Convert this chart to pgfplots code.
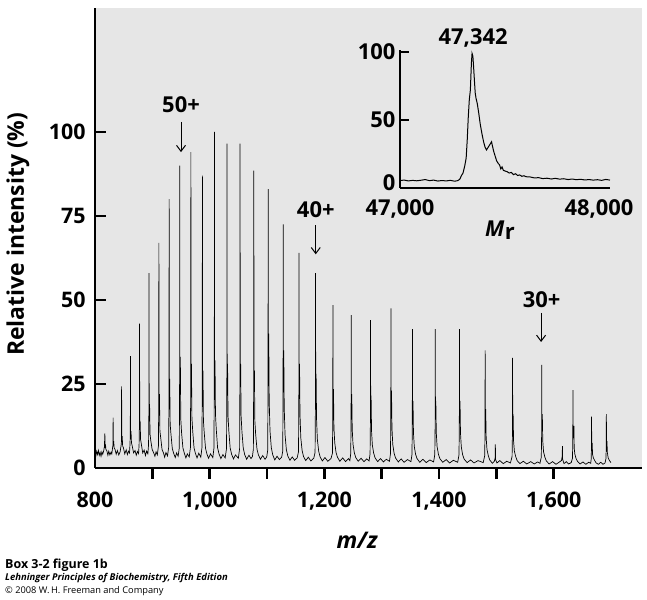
\documentclass[border=0pt]{standalone}
\usepackage{fontspec}
\setmainfont{Open Sans}
\usepackage{pgfplots}
\pgfplotsset{compat=1.18}
\usetikzlibrary{arrows.meta}
\definecolor{bg}{RGB}{230,230,230}
\newcommand{\tl}{\fontsize{21.5}{24}\selectfont\bfseries}
\begin{document}
\begin{tikzpicture}[x=1bp,y=1bp]
\path[use as bounding box] (0,0) rectangle (647,600);
\begin{axis}[
  at={(95bp,132bp)}, anchor=south west,
  scale only axis, width=547bp, height=460bp,
  xmin=800, xmax=1754, ymin=0, ymax=136.9,
  axis x line*=bottom, axis y line*=left,
  axis line style={line width=2.5bp, black},
  axis background/.style={fill=bg},
  xtick={900,1000,...,1600},
  xticklabels={,{1,000},,{1,200},,{1,400},,{1,600}},
  extra x ticks={800}, extra x tick labels={800},
  extra x tick style={tick style={draw=none}},
  xtick align=outside, ytick align=inside,
  ytick={0,25,50,75,100}, yticklabels={0,25,50,75,100},
  major tick length=11bp,
  tick style={line width=2.5bp, black},
  tick label style={font=\tl},
  xticklabel style={yshift=-9bp},
  yticklabel style={xshift=-6bp},
  /pgf/number format/assume math mode=true,
  xlabel={\itshape m/z}, ylabel={Relative intensity (\%)},
  xlabel style={font=\fontsize{23}{26}\selectfont\bfseries, at={(axis description cs:0.479,-0.157)}, anchor=center},
  ylabel style={font=\fontsize{23}{26}\selectfont\bfseries, at={(axis description cs:-0.141,0.508)}, anchor=center, rotate=0},
  clip=false,
]
\addplot[line width=0.7bp, black] coordinates {
(800,4.5)(801.5,3.6)(803,5)(804.5,4)(806,5.2)(807.5,3.8)(809,4.6)(810.5,3.5)(812,4.8)(813.5,4.1)
(815,5)(816.4,6.3)(817.2,10.3)(817.6,6)(818.3,7)(819,5.5)(820.5,5.2)(822.5,3.8)(824,5)(826,3.9)(828,4.7)
(829.3,4.2)(831,6.5)(831.4,6.8)(831.6,15)(831.9,7)(832.6,8)(833.4,6)(835,5.5)(837,4.1)(839,5.2)(841.5,3.9)(843.8,4.8)
(845.6,6.8)(846.2,8)(846.4,24.3)(846.7,8)(847.4,9.5)(848.2,6.6)(849.6,6)(851.9,4.2)(854.4,5.4)(856.5,4)(858.5,5)(860.2,4.5)
(861,7)(861.6,10)(861.8,33.3)(862.1,9.5)(862.8,11)(863.6,7.5)(865,6.5)(867.3,4.5)(869.8,5.2)(872,3.8)(874,4.9)(876,4.3)
(876.9,7)(877.5,13)(877.7,43)(878,12)(878.7,14)(879.5,8.5)(880.9,7)(883.2,4.5)(885.7,5.3)(888,3.7)(890,5)(892.2,4.2)
(893.4,7)(894,17)(894.2,58)(894.5,16)(895.2,19)(896,10)(897.4,8)(899.7,5.5)(902.2,4.6)(904.5,3.5)(906.5,4.8)(908.7,3.9)
(910.6,6.5)(911.2,20)(911.4,67)(911.7,18.5)(912.4,22)(913.2,11)(914.6,9)(916.9,5.5)(919.4,4.5)(921.5,3.2)(923.7,4.6)(926.5,3.6)
(928.5,6.2)(929.1,24)(929.3,80)(929.6,22)(930.3,26.5)(931.1,13)(932.5,10)(934.8,5.8)(937.3,4.3)(940,3.1)(942.3,4.5)(945,3.5)
(947,6)(947.6,27)(947.8,90)(948.1,25)(948.8,33)(949.6,14.5)(951,10.5)(953.3,6)(955.8,4.4)(958.5,3)(961,4.2)(964.3,3.3)
(966.4,6)(967,28)(967.2,94)(967.5,26)(968.2,31)(969,15)(970.4,11)(972.7,6)(975.2,4.3)(978,3)(981,4.4)(984.5,3.2)
(986.5,6)(987.1,26)(987.3,87)(987.6,24)(988.3,29)(989.1,14)(990.5,10.5)(992.8,5.8)(995.3,4.1)(998,2.9)(1001.5,4.2)(1005.5,3.1)
(1007.5,6)(1008.1,30)(1008.3,100)(1008.6,27)(1009.3,32)(1010.1,16)(1011.5,11.5)(1013.8,6)(1016.3,4.2)(1019.5,2.8)(1023,4)(1027,3)
(1029.4,5.8)(1030,29)(1030.2,96.5)(1030.5,26)(1031.2,31)(1032,15.5)(1033.4,11)(1035.7,6)(1038.2,4.1)(1041.5,2.7)(1045,3.9)(1050,2.9)
(1052.2,5.8)(1052.8,29)(1053,96.5)(1053.3,26)(1054,31)(1054.8,15.5)(1056.2,11)(1058.5,6)(1061,4)(1064.5,2.6)(1068.5,3.8)(1072,2.8)(1074.5,3.4)
(1076.2,5.6)(1076.8,27)(1077,88.5)(1077.3,24)(1078,29)(1078.8,14)(1080.2,10)(1082.5,5.6)(1085,3.9)(1088.5,2.6)(1092.5,3.7)(1096.5,2.6)(1099.5,3.3)
(1101.2,5.3)(1101.8,25)(1102,83)(1102.3,35)(1103,40)(1103.8,20)(1105.2,11)(1107.5,6)(1110,3.9)(1113.5,2.4)(1117.5,3.5)(1121.5,2.5)(1125.5,3.2)
(1127.4,5)(1128,22)(1128.2,72.5)(1128.5,30)(1129.2,35)(1130,18)(1131.4,10)(1133.7,5.5)(1136.2,3.6)(1140,2.3)(1144,3.3)(1148,2.3)(1152.5,3)
(1154.9,4.8)(1155.5,19.5)(1155.7,64)(1156,27)(1156.7,31)(1157.5,16)(1158.9,9)(1161.2,5.2)(1163.7,3.4)(1167.5,2.2)(1172,3.2)(1176.5,2.1)(1181.5,2.9)
(1183.8,4.6)(1184.4,18)(1184.6,58)(1184.9,24.5)(1185.6,28)(1186.4,14.5)(1187.8,8.5)(1190.1,5)(1192.6,3.3)(1196.5,2.1)(1201,3.1)(1206,2)(1211.5,2.8)
(1214.1,4.4)(1214.7,15)(1214.9,48.5)(1215.2,20.5)(1215.9,23.5)(1216.7,12)(1218.1,7.5)(1220.4,4.6)(1222.9,3.2)(1227,2)(1232,3)(1237,1.9)(1242,2.8)(1244.5,2.2)
(1246,4.3)(1246.6,14)(1246.8,45.5)(1247.1,19)(1247.8,22)(1248.6,11.5)(1250,7)(1252.3,4.5)(1254.8,3.1)(1259,2)(1264,2.9)(1269,1.9)(1274,2.7)(1278,2.1)
(1279.7,4.2)(1280.3,13.5)(1280.5,44)(1280.8,18.5)(1281.5,21.5)(1282.3,11)(1283.7,6.8)(1286,4.4)(1288.5,3)(1293,1.9)(1298,2.8)(1303,1.8)(1308,2.6)(1313.5,2)
(1315.3,4.2)(1315.9,14.5)(1316.1,47.5)(1316.4,20)(1317.1,23)(1317.9,12)(1319.3,7)(1321.6,4.4)(1324.1,3)(1329,1.8)(1334,2.7)(1339,1.7)(1345,2.5)(1351,1.9)
(1352.8,4)(1353.4,12.5)(1353.6,41.3)(1353.9,17.5)(1354.6,20)(1355.4,10.5)(1356.8,6.4)(1359.1,4.1)(1361.6,2.8)(1366.5,1.7)(1372,2.6)(1377.5,1.6)(1384,2.4)(1390.5,1.8)
(1392.6,4)(1393.2,12.5)(1393.4,41.3)(1393.7,17.5)(1394.4,20)(1395.2,10.5)(1396.6,6.4)(1398.9,4.1)(1401.4,2.8)(1406.5,1.7)(1412.5,2.5)(1418.5,1.5)(1425,2.3)(1432.5,1.7)
(1434.8,3.9)(1435.4,12.5)(1435.6,41.3)(1435.9,17.5)(1436.6,20)(1437.4,10.5)(1438.8,6.3)(1441.1,4)(1443.6,2.7)(1449,1.6)(1455,2.4)(1461,1.5)(1468,2.2)(1477,1.6)
(1479.6,3.6)(1480.2,10.5)(1480.4,35)(1480.7,15)(1481.4,17.5)(1482.2,9)(1483.6,5.5)(1485.9,3.7)(1488.4,2.4)(1493,1.4)(1496.5,2)(1497.8,3)(1498.2,7)(1498.6,2.5)(1501,1.5)(1506,2.2)(1512,1.3)(1518,2)(1524.5,1.5)
(1527.4,3.4)(1528,10)(1528.2,32.8)(1528.5,14)(1529.2,16)(1530,8)(1531.4,5)(1533.7,3.4)(1536.2,2.2)(1541,1.3)(1547,2)(1553,1.2)(1560,1.9)(1566,1.2)(1572,1.8)(1576,1.4)
(1578.3,3.2)(1578.9,9.5)(1579.1,30.7)(1579.4,13)(1580.1,16)(1580.9,8)(1582.3,4.8)(1584.6,3.2)(1587.1,2.1)(1592,1.2)(1598,1.9)(1604,1.1)(1610,1.8)(1613.5,2.2)(1614.8,3.5)(1615.2,6.5)(1615.6,2.5)(1618,1.3)(1622,1.9)(1626,1.2)(1630.5,1.6)
(1632.7,2.9)(1633.3,8)(1633.5,23.2)(1633.8,10)(1634.5,9)(1635.3,12.5)(1635.7,6)(1636.8,4.2)(1639,2.8)(1641.5,2)(1646,1.2)(1651,1.8)(1656,1.1)(1661,1.7)(1664.5,1.4)
(1665.3,2.6)(1665.8,5.5)(1666,15.3)(1666.3,6.5)(1667,7.5)(1667.8,4)(1669.2,3)(1671.5,2.2)(1674,1.5)(1678,1.1)(1682,1.7)(1686,1.1)(1689.5,1.5)
(1691,2.7)(1691.6,5.7)(1691.8,16)(1692.1,7)(1692.8,8)(1693.6,4.5)(1695,3)(1697.3,2.2)(1699.8,1.6)
};
\node[font=\fontsize{22}{24}\selectfont\bfseries] at (axis cs:950,108) {50+};
\draw[line width=1bp, -{Straight Barb[length=6bp,width=9bp]}] (axis cs:950,103) -- (axis cs:950,94);
\node[font=\fontsize{22}{24}\selectfont\bfseries] at (axis cs:1185,76.8) {40+};
\draw[line width=1bp, -{Straight Barb[length=6bp,width=9bp]}] (axis cs:1185,72.3) -- (axis cs:1185,63.6);
\node[font=\fontsize{22}{24}\selectfont\bfseries] at (axis cs:1579,50) {30+};
\draw[line width=1bp, -{Straight Barb[length=6bp,width=9bp]}] (axis cs:1578,46.2) -- (axis cs:1578,37.5);
\end{axis}
\begin{axis}[
  at={(400bp,412bp)}, anchor=south west,
  scale only axis, width=210bp, height=138bp,
  xmin=47000, xmax=48000, ymin=0, ymax=101.5,
  scaled x ticks=false, scaled y ticks=false,
  axis x line*=bottom, axis y line*=left,
  axis line style={line width=2.5bp, black},
  xtick={47000,48000}, xticklabels={{47,000},{\hspace*{-22bp}48,000}},
  xtick style={draw=none},
  ytick={50,100}, yticklabels={50,100},
  extra y ticks={4}, extra y tick labels={0},
  extra y tick style={tick style={draw=none}},
  ytick align=inside, major tick length=9bp,
  ytick style={line width=2.5bp, black},
  tick label style={font=\fontsize{22}{24}\selectfont\bfseries},
  xticklabel style={yshift=-8bp},
  yticklabel style={xshift=-1bp},
  /pgf/number format/assume math mode=true,
  xlabel={\bfseries\itshape M\kern0.5bp\raisebox{-0.3ex}{\upshape r}},
  xlabel style={font=\fontsize{22}{24}\selectfont, at={(axis description cs:0.476,-0.305)}, anchor=center},
  clip=false,
]
\addplot[line width=1bp, black] coordinates {
(47000,5.5)(47020,5.8)(47040,5.2)(47060,5.6)(47080,5.3)(47100,5.7)(47120,6.2)(47140,5.4)(47160,5.8)(47180,5.1)(47200,5.5)(47220,5.2)(47240,5.6)(47260,5.0)(47275,5.4)(47285,6.5)(47292,9)(47300,11)(47308,16)(47315,22)(47320,35)(47325,52)(47330,65)(47335,72)(47340,92)(47343,99)(47347,97)(47350,90)(47354,80)(47358,70)(47362,66)(47368,62)(47375,55)(47382,47)(47390,40)(47398,34)(47405,30)(47412,28)(47420,30)(47428,32)(47436,34)(47440,31)(47446,27)(47452,24)(47460,20)(47468,18)(47474,17)(47480,14)(47486,15.5)(47492,13)(47500,12.5)(47510,12)(47520,11)(47530,11.5)(47540,9.8)(47550,10.5)(47560,9.2)(47570,9.6)(47580,8.6)(47590,9)(47600,8.3)(47620,8.1)(47640,7.4)(47660,7.6)(47680,6.9)(47700,7.2)(47720,6.6)(47740,7.1)(47760,6.5)(47780,6.8)(47800,6.2)(47820,6.6)(47840,6.1)(47860,6.4)(47880,5.9)(47900,6.2)(47920,5.8)(47940,6.1)(47960,5.6)(47980,6.3)(48000,5.8)
};
\node[font=\fontsize{22}{24}\selectfont\bfseries] at (axis cs:47348,110) {47,342};
\end{axis}
\node[anchor=west, font=\fontsize{12.5}{14}\selectfont\bfseries, inner sep=0pt] at (5,35) {Box 3-2 figure 1b};
\node[anchor=west, font=\fontsize{9.5}{11}\selectfont\bfseries\itshape, inner sep=0pt] at (5,22) {Lehninger Principles of Biochemistry, Fifth Edition};
\node[anchor=west, font=\fontsize{9.3}{11}\selectfont, inner sep=0pt] at (5,9) {© 2008 W.\,H. Freeman and Company};
\end{tikzpicture}
\end{document}
